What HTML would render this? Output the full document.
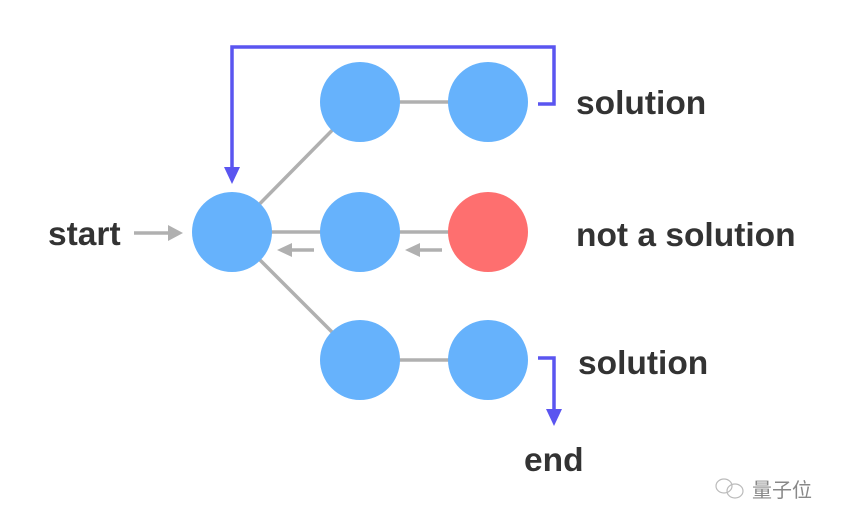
<!DOCTYPE html>
<html><head><meta charset="utf-8"><style>
html,body{margin:0;padding:0;background:#fff;}
svg{display:block;}
text{font-family:"Liberation Sans",sans-serif;font-weight:bold;fill:#333;font-size:33.5px;}
</style></head><body>
<svg width="844" height="526" viewBox="0 0 844 526" xmlns="http://www.w3.org/2000/svg">
<g stroke="#b0b0b0" stroke-width="3.5" fill="none">
<line x1="232" y1="232" x2="360" y2="102"/>
<line x1="232" y1="232" x2="360" y2="360"/>
<line x1="232" y1="232" x2="488" y2="232"/>
<line x1="360" y1="102" x2="488" y2="102"/>
<line x1="360" y1="360" x2="488" y2="360"/>
<line x1="134" y1="233" x2="170" y2="233"/>
<line x1="290" y1="250" x2="314" y2="250"/>
<line x1="418" y1="250" x2="442" y2="250"/>
</g>
<g fill="#b0b0b0">
<polygon points="183,233 168,225 168,241"/>
<polygon points="277,250 292,243 292,257"/>
<polygon points="405,250 420,243 420,257"/>
</g>
<g stroke="#5a55f0" stroke-width="3.5" fill="none">
<polyline points="538,104 554,104 554,47 232,47 232,170"/>
<polyline points="538,358 554,358 554,412"/>
</g>
<g fill="#5a55f0">
<polygon points="232,184 224,167 240,167"/>
<polygon points="554,426 546,409 562,409"/>
</g>
<g fill="#66b2fc">
<circle cx="232" cy="232" r="40"/>
<circle cx="360" cy="102" r="40"/>
<circle cx="488" cy="102" r="40"/>
<circle cx="360" cy="232" r="40"/>
<circle cx="360" cy="360" r="40"/>
<circle cx="488" cy="360" r="40"/>
</g>
<circle cx="488" cy="232" r="40" fill="#fe6f6f"/>
<text x="48" y="245">start</text>
<text x="576" y="114">solution</text>
<text x="576" y="246">not a solution</text>
<text x="578" y="374">solution</text>
<text x="524" y="471">end</text>
<text x="752" y="497" style="font-family:'Liberation Sans','Noto Sans CJK SC',sans-serif;font-size:20px;font-weight:normal;fill:#888">量子位</text>
<g fill="none" stroke="#bbb" stroke-width="1.2">
<ellipse cx="724" cy="486" rx="8" ry="7"/>
<ellipse cx="735" cy="491" rx="8" ry="7"/>
</g>
</svg>
</body></html>
